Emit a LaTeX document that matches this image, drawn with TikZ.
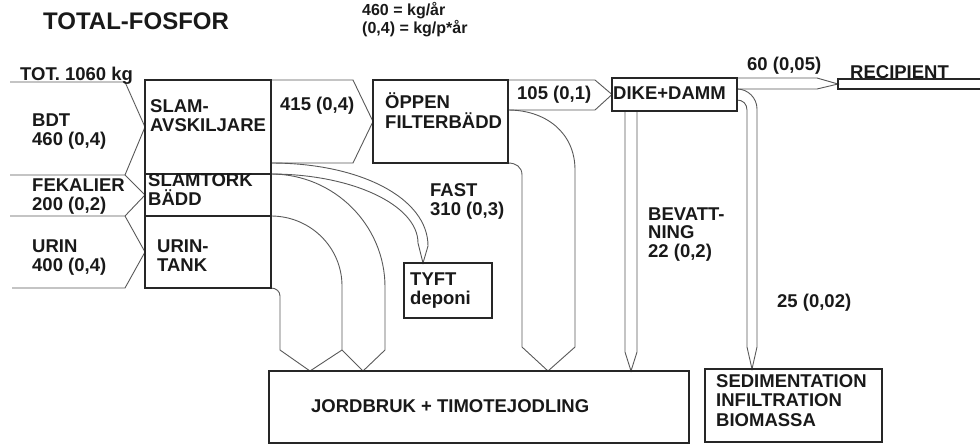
\documentclass[tikz,border=0pt]{standalone}
\usepackage{fontspec}
\setmainfont{Liberation Sans}
\usetikzlibrary{backgrounds}

\begin{document}
\begin{tikzpicture}[
    x=1pt, y=-1pt,
    box/.style={rectangle, draw=black!85, line width=2.4pt, inner sep=0, outer sep=0, anchor=north west},
    flow/.style={draw=black!65, line width=0.9pt},
    txt/.style={font=\bfseries\fontsize{18.5}{18.5}\selectfont, inner sep=0, anchor=base west, align=left, text=black!90}
]
    \useasboundingbox (0,0) rectangle (980,445);

    % Boxes
    \node (slam) at (145,80) [box, minimum width=126pt, minimum height=94pt] {};
    \node (slamtork) at (145,174) [box, minimum width=126pt, minimum height=42pt] {};
    \node (urintank) at (145,216) [box, minimum width=126pt, minimum height=72pt] {};
    \node (oppen) at (373,80) [box, minimum width=135pt, minimum height=83pt] {};
    \node (dike) at (612,78) [box, minimum width=125pt, minimum height=33pt] {};
    \node (recipient) at (838,79) [box, minimum width=160pt, minimum height=10pt] {};
    \node (tyft) at (404,263) [box, minimum width=88pt, minimum height=55pt] {};
    \node (jordbruk) at (269,371) [box, minimum width=420pt, minimum height=72pt] {};
    \node (sediment) at (705,369) [box, minimum width=177pt, minimum height=73pt] {};

    % Free ends and arrow tips
    \coordinate (in1) at (10,82);
    \coordinate (in2) at (10,175);
    \coordinate (in3) at (10,216);
    \coordinate (in4) at (12,288);
    \coordinate (tyft-in) at (423,263);
    \coordinate (jb1) at (310,371);
    \coordinate (jb2) at (363,371);
    \coordinate (jb3) at (548,371);
    \coordinate (jb4) at (631,371);
    \coordinate (sed-in) at (752,369);

    \begin{scope}[on background layer]
    % Inflows
    \draw [flow] (in1) -- (125,82) -- (slam.west) -- (125,175) -- (in2);
    \draw [flow] (125,175) -- (slamtork.west) -- (125,216) -- (in3);
    \draw [flow] (125,216) -- (urintank.west) -- (125,288) -- (in4);

    % Main line
    \draw [flow] (slam.north east) -- (353,80) -- (oppen.west) -- (353,163) -- (271,163);
    \draw [flow] (oppen.north east) -- (595,80) -- (dike.west) -- (595,110) -- (508,110);
    \draw [flow] (dike.north east) -- (817,78) -- (recipient.west) -- (817,89) -- (737,89);

    % Sludge to TYFT and JORDBRUK
    \draw [flow] (271,163) .. controls (360,163) and (428,198) .. (428,246) -- (tyft-in)
        -- (418,243) .. controls (418,205) and (352,174) .. (271,174);
    \draw [flow] (271,174) .. controls (334,174) and (385,225) .. (385,287) -- (385,350)
        -- (jb2) -- (342,350);
    \draw [flow] (271,216) .. controls (310,216) and (342,247) .. (342,286) -- (342,350)
        -- (jb1) -- (280,350) -- (280,296) .. controls (280,291.6) and (276.4,288) .. (urintank.south east);

    % FAST from filter bed
    \draw [flow] (508,110) .. controls (545,110) and (575,132) .. (575,170) -- (575,347)
        -- (jb3) -- (522,347) -- (522,175) .. controls (522,167) and (516,163) .. (oppen.south east);

    % From DIKE+DAMM
    \draw [flow] (625,111) -- (625,352) -- (jb4) -- (637,352) -- (637,111);
    \draw [flow] (737,89) .. controls (748,89) and (757,98) .. (757,109) -- (757,347)
        -- (sed-in) -- (747,347) -- (747,110) .. controls (747,104) and (743,100) .. (737,100);
    \end{scope}

    % Texts (base = last line)
    \node (title) at (43,29) [txt, font=\bfseries\fontsize{24}{24}\selectfont] {TOTAL-FOSFOR};
    \node (legend) at (362,33) [txt, font=\bfseries\fontsize{16}{13}\selectfont] {460 = kg/år\\(0,4) = kg/p*år};
    \node (tot) at (20,80) [txt] {TOT. 1060 kg};
    \node (bdt) at (32,145) [txt] {BDT\\460 (0,4)};
    \node (fek) at (32,210) [txt] {FEKALIER\\200 (0,2)};
    \node (urin) at (32,271) [txt] {URIN\\400 (0,4)};
    \node (slam-t) at (150,131) [txt] {SLAM-\\AVSKILJARE};
    \node (slamtork-t) at (148,205) [txt] {SLAMTORK\\BÄDD};
    \node (urintank-t) at (157,271) [txt] {URIN-\\TANK};
    \node (f415) at (280,110) [txt] {415 (0,4)};
    \node (oppen-t) at (385,128) [txt, font=\bfseries\fontsize{18.5}{19.5}\selectfont] {ÖPPEN\\FILTERBÄDD};
    \node (f105) at (517,99) [txt] {105 (0,1)};
    \node (dike-t) at (613,99) [txt] {DIKE+DAMM};
    \node (f60) at (747,70) [txt] {60 (0,05)};
    \node (recipient-t) at (850,78) [txt] {RECIPIENT};
    \node (fast) at (430,215) [txt] {FAST\\310 (0,3)};
    \node (tyft-t) at (410,304) [txt] {TYFT\\deponi};
    \node (bev) at (648,257) [txt] {BEVATT-\\NING\\22 (0,2)};
    \node (f25) at (777,307) [txt] {25 (0,02)};
    \node (jordbruk-t) at (311,412) [txt] {JORDBRUK + TIMOTEJODLING};
    \node (sediment-t) at (716,426) [txt, font=\bfseries\fontsize{18.5}{19.2}\selectfont] {SEDIMENTATION\\INFILTRATION\\BIOMASSA};

\end{tikzpicture}
\end{document}
